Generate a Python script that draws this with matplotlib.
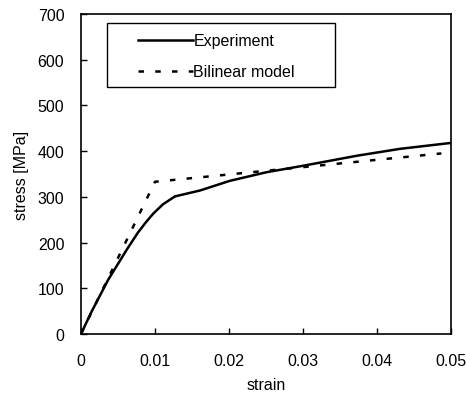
import matplotlib
matplotlib.use("Agg")
import matplotlib.pyplot as plt
from matplotlib.patches import Rectangle

# Experiment curve
exp_strain = [0.0, 0.0014, 0.00365, 0.0062, 0.0077, 0.0088, 0.0098, 0.0111, 0.0127,
              0.0161, 0.0201, 0.0251, 0.0300, 0.0373, 0.0431, 0.0500]
exp_stress = [0, 48, 118, 185, 222, 245, 264, 284, 301,
              314, 335, 354, 368, 390, 405, 418]

# Bilinear model
bil_strain = [0.0, 0.0100, 0.0487]
bil_stress = [0, 333, 395]

xticks = [0, 0.01, 0.02, 0.03, 0.04, 0.05]
xticklabels = ["0", "0.01", "0.02", "0.03", "0.04", "0.05"]
yticks = [0, 100, 200, 300, 400, 500, 600, 700]

plt.rcParams['font.family'] = ['Liberation Sans', 'DejaVu Sans']
FS = 11.5
fig = plt.figure(figsize=(4.66, 4.02), dpi=100)
ax = fig.add_axes([81/466, 1-335/402, 370/466, 320/402])

ax.plot(exp_strain, exp_stress, color='black', lw=1.8, label='Experiment')
ax.plot(bil_strain, bil_stress, color='black', lw=1.8, linestyle=(0, (2.2, 4.5)),
        label='Bilinear model')

ax.set_xlim(0, 0.05)
ax.set_ylim(0, 700)
ax.set_xticks(xticks)
ax.set_xticklabels(xticklabels)
ax.set_yticks(yticks)
ax.tick_params(direction='in', length=4, width=1, labelsize=FS, colors='black')
ax.tick_params(axis='x', pad=14)
ax.tick_params(axis='y', pad=12)
for s in ax.spines.values():
    s.set_linewidth(1.2)
ax.set_xlabel('strain', fontsize=FS, labelpad=6)
ax.set_ylabel('stress [MPa]', fontsize=FS, labelpad=6)

ax.add_patch(Rectangle((0.07, 0.772), 0.616, 0.2, transform=ax.transAxes,
                       fill=False, edgecolor='black', lw=1.0, zorder=5))
leg = ax.legend(loc='upper left', bbox_to_anchor=(0.155, 0.94), frameon=False,
                fontsize=FS, handlelength=3.4, handletextpad=0.05,
                labelspacing=1.0, borderaxespad=0, borderpad=0)

fig.savefig('out.png', dpi=100)
